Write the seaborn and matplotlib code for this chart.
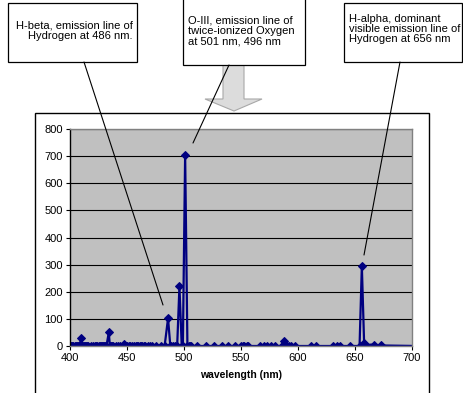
import numpy as np
import pandas as pd
import matplotlib
matplotlib.use("Agg")
import matplotlib.pyplot as plt
import seaborn as sns
from matplotlib.patches import Rectangle, Polygon
from matplotlib.lines import Line2D

# ---- data ----
wavelength = [400, 401, 402, 403, 404, 405, 406, 407, 408, 410, 411, 412, 413, 414, 415, 416,
              418, 420, 422, 423, 424, 425, 426, 427, 428, 429, 430, 431, 432, 434, 435, 436,
              437, 438, 440, 442, 444, 447, 448, 450, 452, 453, 454, 456, 458, 459, 460, 461,
              462, 463, 465, 466, 468, 470, 472, 475, 480, 483, 486, 488, 489, 490, 492, 494,
              496, 498, 499, 501, 503, 504, 505, 506, 511, 519, 526, 533, 539, 545, 550, 552,
              553, 555, 556, 567, 570, 573, 576, 580, 586, 588, 590, 592, 594, 597, 611, 616,
              631, 634, 637, 646, 654, 656, 658, 659, 667, 673, 705]
intensity = [0, 0, 1, 0, 0, 1, 0, 0, 0, 28, 0, 0, 1, 0, 0, 0,
             0, 0, 0, 1, 0, 0, 0, 1, 0, 0, 0, 0, 0, 50, 0, 0,
             0, 0, 0, 1, 0, 7, 0, 0, 0, 1, 0, 0, 0, 0, 1, 0,
             0, 0, 0, 0, 0, 0, 0, 0, 0, 0, 102, 0, 1, 0, 0, 0,
             220, 0, 0, 705, 0, 0, 0, 0, 0, 0, 0, 0, 0, 0, 0, 0,
             0, 0, 0, 0, 0, 0, 0, 0, 0, 20, 0, 0, 0, 0, 0, 0,
             0, 0, 0, 0, 0, 295, 10, 5, 5, 2, 0]

x_ticks = [400, 450, 500, 550, 600, 650, 700]
y_ticks = [0, 100, 200, 300, 400, 500, 600, 700, 800]
x_label = "wavelength (nm)"
notes = ["H-beta, emission line of\nHydrogen at 486 nm.",
         "O-III, emission line of\ntwice-ionized Oxygen\nat 501 nm, 496 nm",
         "H-alpha, dominant\nvisible emission line of\nHydrogen at 656 nm"]

df = pd.DataFrame({"wavelength": wavelength, "intensity": intensity})

W, H = 463, 393
sns.set_theme(style="white")
plt.rcParams['font.family'] = ['Liberation Sans', 'DejaVu Sans']
plt.rcParams['text.color'] = 'black'
plt.rcParams['axes.labelcolor'] = 'black'

fig = plt.figure(figsize=(W / 100, H / 100), dpi=100)

def fx(x):
    return x / W

def fy(y):
    return 1 - y / H

# outer chart box
fig.add_artist(Rectangle((fx(35), fy(395)), fx(429) - fx(35), fy(113) - fy(395),
                         transform=fig.transFigure, facecolor="white",
                         edgecolor="black", linewidth=1.0, zorder=-2))

# big grey arrow
arrow_pts = [(223, -2), (244, -2), (244, 99), (262, 99), (234, 111), (205, 99), (223, 99)]
fig.add_artist(Polygon([(fx(a), fy(b)) for a, b in arrow_pts], closed=True,
                       transform=fig.transFigure, facecolor="#dcdcdc",
                       edgecolor="#a8a8a8", linewidth=0.8, zorder=-1))

ax = fig.add_axes([fx(70), fy(346), fx(412) - fx(70), fy(129) - fy(346)])
ax.set_facecolor("#c0c0c0")

sns.lineplot(data=df, x="wavelength", y="intensity", ax=ax, estimator=None, sort=True,
             color="#000080", linewidth=1.6, marker="D", markersize=4.2,
             markeredgecolor="#000080", markerfacecolor="#000080", clip_on=True)

ax.set_xlim(400, 700)
ax.set_ylim(0, 800)
ax.set_xticks(x_ticks)
ax.set_yticks(y_ticks)
ax.yaxis.grid(True, color="black", linewidth=0.8)
ax.xaxis.grid(False)
ax.set_axisbelow(True)
for s in ax.spines.values():
    s.set_color("#808080")
    s.set_linewidth(1.0)
ax.spines["left"].set_color("black")
ax.tick_params(axis="both", labelsize=8, colors="black", length=3, width=0.8,
               direction="out", pad=2, bottom=True, left=True)
ax.set_xlabel(x_label, fontsize=7.5, fontweight="bold", labelpad=5, color="black")
ax.set_ylabel("")

# callout boxes
boxes = [(8, 3, 137, 62), (183, -2, 305, 65), (344, 3, 462, 62)]
for (x0, y0, x1, y1) in boxes:
    fig.add_artist(Rectangle((fx(x0), fy(y1)), fx(x1) - fx(x0), fy(y0) - fy(y1),
                             transform=fig.transFigure, facecolor="white",
                             edgecolor="black", linewidth=0.9, zorder=5))

fig.text(fx(133), fy(31), notes[0], ha="right", va="center", fontsize=8,
         linespacing=1.05, zorder=6, color="black")
fig.text(fx(188), fy(31), notes[1], ha="left", va="center", fontsize=8,
         linespacing=1.05, zorder=6, color="black")
fig.text(fx(349), fy(29), notes[2], ha="left", va="center", fontsize=8,
         linespacing=1.05, zorder=6, color="black")

# leader lines
leaders = [((84, 62), (163, 305)), ((229, 65), (193, 143)), ((400, 62), (364, 255))]
for (a, b) in leaders:
    fig.add_artist(Line2D([fx(a[0]), fx(b[0])], [fy(a[1]), fy(b[1])],
                          transform=fig.transFigure, color="black", linewidth=0.8, zorder=10))

fig.savefig("out.png", dpi=100)
